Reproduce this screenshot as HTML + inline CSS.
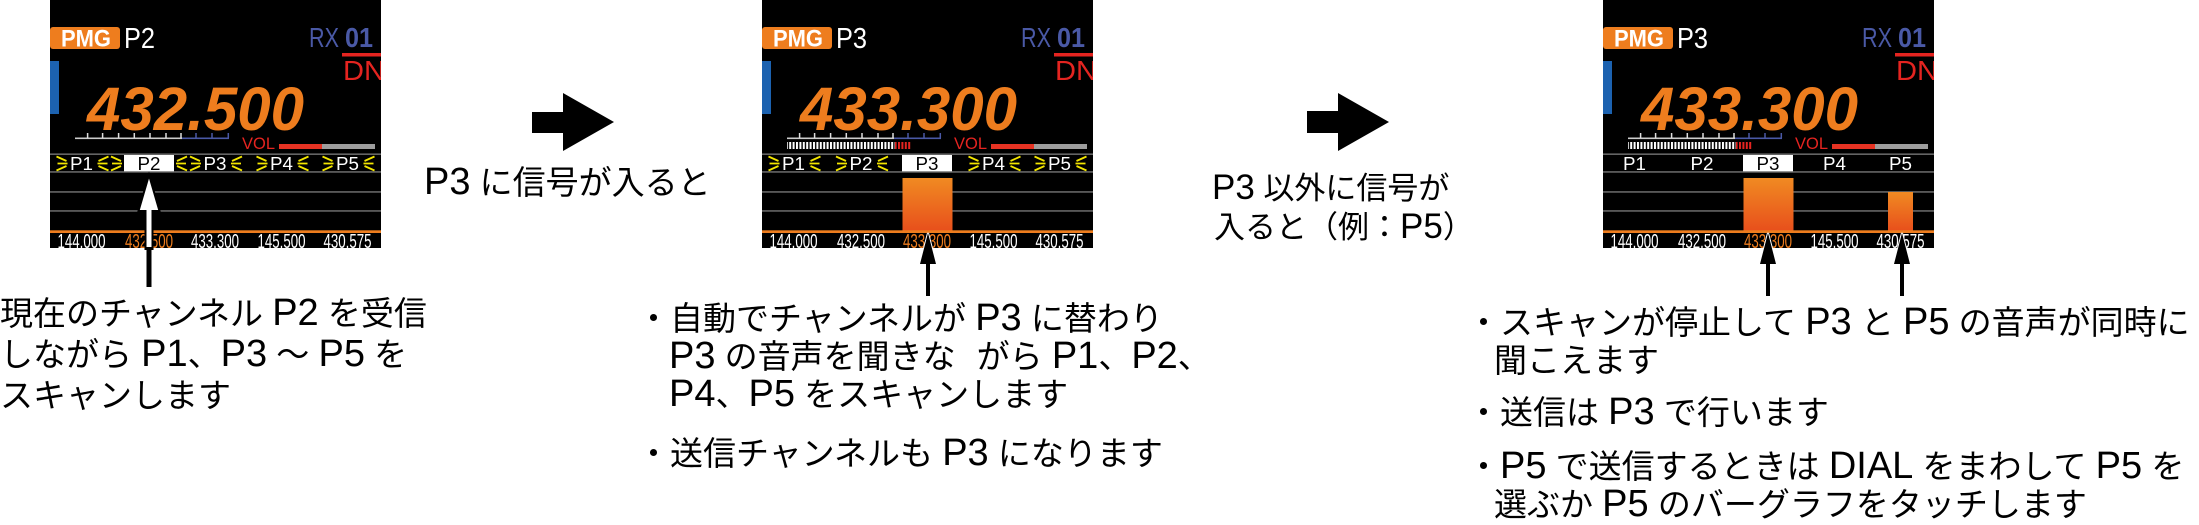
<!DOCTYPE html>
<html><head><meta charset="utf-8">
<style>
html,body{margin:0;padding:0}
body{width:2199px;height:524px;overflow:hidden;background:#fff;position:relative;font-family:"Liberation Sans","Noto Sans CJK JP",sans-serif}
.scr{position:absolute;top:0}
.scr text{font-family:"Liberation Sans",sans-serif}
.tx{position:absolute;white-space:nowrap;font-size:33px;line-height:33px;color:#000}
.tx b{font-weight:normal;font-size:38px;line-height:0}
.tx u{text-decoration:none;margin-right:-12px}
.lb2{font-size:31px;line-height:31px}
.lb2 b{font-size:35px}
#ov{position:absolute;left:0;top:0}
</style></head><body>

<!-- Screen 1 -->
<svg class="scr" style="left:50px" width="331" height="248" viewBox="0 0 331 248">
<rect width="331" height="248" fill="#000"/>
<rect x="0" y="27" width="70" height="22" rx="3" fill="#ee7d1e"/>
<text x="11" y="46.5" font-weight="bold" font-size="24" fill="#fff" textLength="50" lengthAdjust="spacingAndGlyphs">PMG</text>
<text x="74" y="48" font-size="29" fill="#fff" textLength="31" lengthAdjust="spacingAndGlyphs">P2</text>
<text x="259" y="47" font-size="28" fill="#4a59a6" textLength="30" lengthAdjust="spacingAndGlyphs">RX</text>
<text x="295" y="47" font-size="28" font-weight="bold" fill="#4a59a6" textLength="28" lengthAdjust="spacingAndGlyphs">01</text>
<rect x="292" y="53" width="39" height="3.5" fill="#e52420"/>
<text x="293" y="80" font-size="28" fill="#e52420" textLength="42" lengthAdjust="spacingAndGlyphs">DN</text>
<rect x="0" y="61" width="9" height="53" fill="#1c62b0"/>
<text x="37" y="130" font-size="61" font-weight="bold" font-style="italic" fill="#ee7d1e" textLength="217" lengthAdjust="spacingAndGlyphs">432.500</text>
<rect x="25" y="137.5" width="107" height="1.6" fill="#cccccc"/>
<rect x="132" y="137.5" width="47" height="1.6" fill="#4a59a6"/>
<path d="M37.6 133v5M52.6 133v5M68.6 133v5M84.3 133v5M100 133v5M116 133v5M131 133v5" stroke="#dddddd" stroke-width="1.5"/>
<path d="M146 133v5M162 133v5M178.3 133v5" stroke="#4a59a6" stroke-width="1.5"/>
<text x="192" y="149" font-size="17" fill="#e52420" textLength="33" lengthAdjust="spacingAndGlyphs">VOL</text>
<rect x="229" y="144" width="43" height="5" fill="#e63323"/>
<rect x="272" y="144" width="53" height="5" fill="#9d9d9d"/>
<rect x="0" y="153.5" width="331" height="1.3" fill="#7d7d7d"/>
<rect x="0" y="171.3" width="331" height="1.3" fill="#7d7d7d"/>
<rect x="0" y="191.3" width="331" height="1.3" fill="#7d7d7d"/>
<rect x="0" y="210.3" width="331" height="1.3" fill="#7d7d7d"/>
<rect x="0" y="230.3" width="331" height="2.7" fill="#ee7d1e"/>
<rect x="74" y="155" width="50" height="16.3" fill="#fff"/>
<path fill="none" stroke="#f3e600" stroke-width="1.8" d="M6.5 156.5L16.5 161M7.5 163.5H17.5M6.5 170.5L16.5 166M58.5 156.5L48.5 161M57.5 163.5H47.5M58.5 170.5L48.5 166M61 156.5L71 161M62 163.5H72M61 170.5L71 166M137 156.5L127 161M136 163.5H126M137 170.5L127 166M140 156.5L150 161M141 163.5H151M140 170.5L150 166M192 156.5L182 161M191 163.5H181M192 170.5L182 166M206.5 156.5L216.5 161M207.5 163.5H217.5M206.5 170.5L216.5 166M258.5 156.5L248.5 161M257.5 163.5H247.5M258.5 170.5L248.5 166M272.5 156.5L282.5 161M273.5 163.5H283.5M272.5 170.5L282.5 166M324.5 156.5L314.5 161M323.5 163.5H313.5M324.5 170.5L314.5 166"/>
<text x="20" y="170" font-size="18" fill="#fff" textLength="23" lengthAdjust="spacingAndGlyphs">P1</text>
<text x="87.5" y="170" font-size="18" fill="#000" textLength="23" lengthAdjust="spacingAndGlyphs">P2</text>
<text x="153.5" y="170" font-size="18" fill="#fff" textLength="23" lengthAdjust="spacingAndGlyphs">P3</text>
<text x="220" y="170" font-size="18" fill="#fff" textLength="23" lengthAdjust="spacingAndGlyphs">P4</text>
<text x="286" y="170" font-size="18" fill="#fff" textLength="23" lengthAdjust="spacingAndGlyphs">P5</text>
<text x="7.5" y="248" font-size="20" fill="#fff" textLength="48" lengthAdjust="spacingAndGlyphs">144.000</text>
<text x="75" y="248" font-size="20" fill="#ee7d1e" textLength="48" lengthAdjust="spacingAndGlyphs">432.500</text>
<text x="141" y="248" font-size="20" fill="#fff" textLength="48" lengthAdjust="spacingAndGlyphs">433.300</text>
<text x="207.5" y="248" font-size="20" fill="#fff" textLength="48" lengthAdjust="spacingAndGlyphs">145.500</text>
<text x="273.5" y="248" font-size="20" fill="#fff" textLength="48" lengthAdjust="spacingAndGlyphs">430.575</text>
</svg>

<!-- Screen 2 -->
<svg class="scr" style="left:762px" width="331" height="248" viewBox="0 0 331 248">
<defs>
<linearGradient id="g2" x1="0" y1="0" x2="0" y2="1"><stop offset="0" stop-color="#f08a22"/><stop offset="1" stop-color="#e8501c"/></linearGradient>
<pattern id="sw2" width="3.4" height="7" patternUnits="userSpaceOnUse"><rect width="2" height="7" fill="#fff"/></pattern>
<pattern id="sr2" width="3.4" height="7" patternUnits="userSpaceOnUse"><rect width="2" height="7" fill="#e52420"/></pattern>
</defs>
<rect width="331" height="248" fill="#000"/>
<rect x="0" y="27" width="70" height="22" rx="3" fill="#ee7d1e"/>
<text x="11" y="46.5" font-weight="bold" font-size="24" fill="#fff" textLength="50" lengthAdjust="spacingAndGlyphs">PMG</text>
<text x="74" y="48" font-size="29" fill="#fff" textLength="31" lengthAdjust="spacingAndGlyphs">P3</text>
<text x="259" y="47" font-size="28" fill="#4a59a6" textLength="30" lengthAdjust="spacingAndGlyphs">RX</text>
<text x="295" y="47" font-size="28" font-weight="bold" fill="#4a59a6" textLength="28" lengthAdjust="spacingAndGlyphs">01</text>
<rect x="292" y="53" width="39" height="3.5" fill="#e52420"/>
<text x="293" y="80" font-size="28" fill="#e52420" textLength="42" lengthAdjust="spacingAndGlyphs">DN</text>
<rect x="0" y="61" width="9" height="53" fill="#1c62b0"/>
<text x="38" y="130" font-size="61" font-weight="bold" font-style="italic" fill="#ee7d1e" textLength="217" lengthAdjust="spacingAndGlyphs">433.300</text>
<rect x="25" y="137.5" width="107" height="1.6" fill="#cccccc"/>
<rect x="132" y="137.5" width="47" height="1.6" fill="#4a59a6"/>
<path d="M37.6 133v5M52.6 133v5M68.6 133v5M84.3 133v5M100 133v5M116 133v5M131 133v5" stroke="#dddddd" stroke-width="1.5"/>
<path d="M146 133v5M162 133v5M178.3 133v5" stroke="#4a59a6" stroke-width="1.5"/>
<rect x="25" y="142" width="108" height="7" fill="url(#sw2)"/>
<rect x="133" y="142" width="16" height="7" fill="url(#sr2)"/>
<text x="192" y="149" font-size="17" fill="#e52420" textLength="33" lengthAdjust="spacingAndGlyphs">VOL</text>
<rect x="229" y="144" width="43" height="5" fill="#e63323"/>
<rect x="272" y="144" width="53" height="5" fill="#9d9d9d"/>
<rect x="0" y="153.5" width="331" height="1.3" fill="#7d7d7d"/>
<rect x="0" y="171.3" width="331" height="1.3" fill="#7d7d7d"/>
<rect x="0" y="191.3" width="331" height="1.3" fill="#7d7d7d"/>
<rect x="0" y="210.3" width="331" height="1.3" fill="#7d7d7d"/>
<rect x="140.5" y="178" width="50" height="52.5" fill="url(#g2)"/>
<rect x="0" y="230.3" width="331" height="2.7" fill="#ee7d1e"/>
<rect x="140" y="155" width="50" height="16.3" fill="#fff"/>
<path fill="none" stroke="#f3e600" stroke-width="1.8" d="M6.5 156.5L16.5 161M7.5 163.5H17.5M6.5 170.5L16.5 166M58.5 156.5L48.5 161M57.5 163.5H47.5M58.5 170.5L48.5 166M74 156.5L84 161M75 163.5H85M74 170.5L84 166M126 156.5L116 161M125 163.5H115M126 170.5L116 166M206.5 156.5L216.5 161M207.5 163.5H217.5M206.5 170.5L216.5 166M258.5 156.5L248.5 161M257.5 163.5H247.5M258.5 170.5L248.5 166M272.5 156.5L282.5 161M273.5 163.5H283.5M272.5 170.5L282.5 166M324.5 156.5L314.5 161M323.5 163.5H313.5M324.5 170.5L314.5 166"/>
<text x="20" y="170" font-size="18" fill="#fff" textLength="23" lengthAdjust="spacingAndGlyphs">P1</text>
<text x="87.5" y="170" font-size="18" fill="#fff" textLength="23" lengthAdjust="spacingAndGlyphs">P2</text>
<text x="153.5" y="170" font-size="18" fill="#000" textLength="23" lengthAdjust="spacingAndGlyphs">P3</text>
<text x="220" y="170" font-size="18" fill="#fff" textLength="23" lengthAdjust="spacingAndGlyphs">P4</text>
<text x="286" y="170" font-size="18" fill="#fff" textLength="23" lengthAdjust="spacingAndGlyphs">P5</text>
<text x="7.5" y="248" font-size="20" fill="#fff" textLength="48" lengthAdjust="spacingAndGlyphs">144.000</text>
<text x="75" y="248" font-size="20" fill="#fff" textLength="48" lengthAdjust="spacingAndGlyphs">432.500</text>
<text x="141" y="248" font-size="20" fill="#ee7d1e" textLength="48" lengthAdjust="spacingAndGlyphs">433.300</text>
<text x="207.5" y="248" font-size="20" fill="#fff" textLength="48" lengthAdjust="spacingAndGlyphs">145.500</text>
<text x="273.5" y="248" font-size="20" fill="#fff" textLength="48" lengthAdjust="spacingAndGlyphs">430.575</text>
</svg>

<!-- Screen 3 -->
<svg class="scr" style="left:1603px" width="331" height="248" viewBox="0 0 331 248">
<defs>
<linearGradient id="g3" x1="0" y1="0" x2="0" y2="1"><stop offset="0" stop-color="#f08a22"/><stop offset="1" stop-color="#e8501c"/></linearGradient>
<pattern id="sw3" width="3.4" height="7" patternUnits="userSpaceOnUse"><rect width="2" height="7" fill="#fff"/></pattern>
<pattern id="sr3" width="3.4" height="7" patternUnits="userSpaceOnUse"><rect width="2" height="7" fill="#e52420"/></pattern>
</defs>
<rect width="331" height="248" fill="#000"/>
<rect x="0" y="27" width="70" height="22" rx="3" fill="#ee7d1e"/>
<text x="11" y="46.5" font-weight="bold" font-size="24" fill="#fff" textLength="50" lengthAdjust="spacingAndGlyphs">PMG</text>
<text x="74" y="48" font-size="29" fill="#fff" textLength="31" lengthAdjust="spacingAndGlyphs">P3</text>
<text x="259" y="47" font-size="28" fill="#4a59a6" textLength="30" lengthAdjust="spacingAndGlyphs">RX</text>
<text x="295" y="47" font-size="28" font-weight="bold" fill="#4a59a6" textLength="28" lengthAdjust="spacingAndGlyphs">01</text>
<rect x="292" y="53" width="39" height="3.5" fill="#e52420"/>
<text x="293" y="80" font-size="28" fill="#e52420" textLength="42" lengthAdjust="spacingAndGlyphs">DN</text>
<rect x="0" y="61" width="9" height="53" fill="#1c62b0"/>
<text x="38" y="130" font-size="61" font-weight="bold" font-style="italic" fill="#ee7d1e" textLength="217" lengthAdjust="spacingAndGlyphs">433.300</text>
<rect x="25" y="137.5" width="107" height="1.6" fill="#cccccc"/>
<rect x="132" y="137.5" width="47" height="1.6" fill="#4a59a6"/>
<path d="M37.6 133v5M52.6 133v5M68.6 133v5M84.3 133v5M100 133v5M116 133v5M131 133v5" stroke="#dddddd" stroke-width="1.5"/>
<path d="M146 133v5M162 133v5M178.3 133v5" stroke="#4a59a6" stroke-width="1.5"/>
<rect x="25" y="142" width="108" height="7" fill="url(#sw3)"/>
<rect x="133" y="142" width="16" height="7" fill="url(#sr3)"/>
<text x="192" y="149" font-size="17" fill="#e52420" textLength="33" lengthAdjust="spacingAndGlyphs">VOL</text>
<rect x="229" y="144" width="43" height="5" fill="#e63323"/>
<rect x="272" y="144" width="53" height="5" fill="#9d9d9d"/>
<rect x="0" y="153.5" width="331" height="1.3" fill="#7d7d7d"/>
<rect x="0" y="171.3" width="331" height="1.3" fill="#7d7d7d"/>
<rect x="0" y="191.3" width="331" height="1.3" fill="#7d7d7d"/>
<rect x="0" y="210.3" width="331" height="1.3" fill="#7d7d7d"/>
<rect x="140.5" y="178" width="50" height="52.5" fill="url(#g3)"/>
<rect x="285" y="192" width="25" height="38.5" fill="url(#g3)"/>
<rect x="0" y="230.3" width="331" height="2.7" fill="#ee7d1e"/>
<rect x="140" y="155" width="50" height="16.3" fill="#fff"/>
<text x="20" y="170" font-size="18" fill="#fff" textLength="23" lengthAdjust="spacingAndGlyphs">P1</text>
<text x="87.5" y="170" font-size="18" fill="#fff" textLength="23" lengthAdjust="spacingAndGlyphs">P2</text>
<text x="153.5" y="170" font-size="18" fill="#000" textLength="23" lengthAdjust="spacingAndGlyphs">P3</text>
<text x="220" y="170" font-size="18" fill="#fff" textLength="23" lengthAdjust="spacingAndGlyphs">P4</text>
<text x="286" y="170" font-size="18" fill="#fff" textLength="23" lengthAdjust="spacingAndGlyphs">P5</text>
<text x="7.5" y="248" font-size="20" fill="#fff" textLength="48" lengthAdjust="spacingAndGlyphs">144.000</text>
<text x="75" y="248" font-size="20" fill="#fff" textLength="48" lengthAdjust="spacingAndGlyphs">432.500</text>
<text x="141" y="248" font-size="20" fill="#ee7d1e" textLength="48" lengthAdjust="spacingAndGlyphs">433.300</text>
<text x="207.5" y="248" font-size="20" fill="#fff" textLength="48" lengthAdjust="spacingAndGlyphs">145.500</text>
<text x="273.5" y="248" font-size="20" fill="#fff" textLength="48" lengthAdjust="spacingAndGlyphs">430.575</text>
</svg>

<!-- Overlay arrows -->
<svg id="ov" width="2199" height="524" viewBox="0 0 2199 524">
<polygon points="149,175 159.5,211 152.5,211 152.5,249 145.5,249 145.5,211 138.5,211" fill="#fff" stroke="#000" stroke-width="2" stroke-linejoin="miter"/>
<rect x="146.5" y="247" width="5" height="40" fill="#000"/>
<polygon points="928,233 936,264 930,264 930,296 926,296 926,264 920,264" fill="#000" stroke="#fff" stroke-width="2" paint-order="stroke"/>
<polygon points="1768,233 1776,264 1770,264 1770,296 1766,296 1766,264 1760,264" fill="#000" stroke="#fff" stroke-width="2" paint-order="stroke"/>
<polygon points="1902,233 1910,264 1904,264 1904,296 1900,296 1900,264 1894,264" fill="#000" stroke="#fff" stroke-width="2" paint-order="stroke"/>
<polygon points="532,112 563,112 563,93 614,122 563,151 563,133 532,133" fill="#000"/>
<polygon points="1307,111 1338,111 1338,93 1389,122 1338,151 1338,133 1307,133" fill="#000"/>
</svg>

<!-- Labels -->
<div class="tx" style="left:424px;top:166px"><b>P3</b> に信号が入ると</div>
<div class="tx lb2" style="left:1212px;top:173px"><b>P3</b> 以外に信号が</div>
<div class="tx lb2" style="left:1214px;top:212px">入ると（例：<b>P5</b>）</div>

<!-- Left text -->
<div class="tx" style="left:0;top:297px">現在のチャンネル <b>P2</b> を受信</div>
<div class="tx" style="left:0;top:338px">しながら <b>P1</b>、<b>P3</b> 〜 <b>P5</b> を</div>
<div class="tx" style="left:0;top:379px">スキャンします</div>

<!-- Middle text -->
<div class="tx" style="left:637px;top:302px">・自動でチャンネルが <b>P3</b> に替わり</div>
<div class="tx" style="left:669px;top:340px"><b>P3</b> の音声を聞きな<u>　</u>がら <b>P1</b>、<b>P2</b>、</div>
<div class="tx" style="left:669px;top:378px"><b>P4</b>、<b>P5</b> をスキャンします</div>
<div class="tx" style="left:637px;top:437px">・送信チャンネルも <b>P3</b> になります</div>

<!-- Right text -->
<div class="tx" style="left:1467px;top:306px">・スキャンが停止して <b>P3</b> と <b>P5</b> の音声が同時に</div>
<div class="tx" style="left:1494px;top:344px">聞こえます</div>
<div class="tx" style="left:1467px;top:396px">・送信は <b>P3</b> で行います</div>
<div class="tx" style="left:1467px;top:450px">・<b>P5</b> で送信するときは <b>DIAL</b> をまわして <b>P5</b> を</div>
<div class="tx" style="left:1494px;top:488px">選ぶか <b>P5</b> のバーグラフをタッチします</div>

</body></html>
